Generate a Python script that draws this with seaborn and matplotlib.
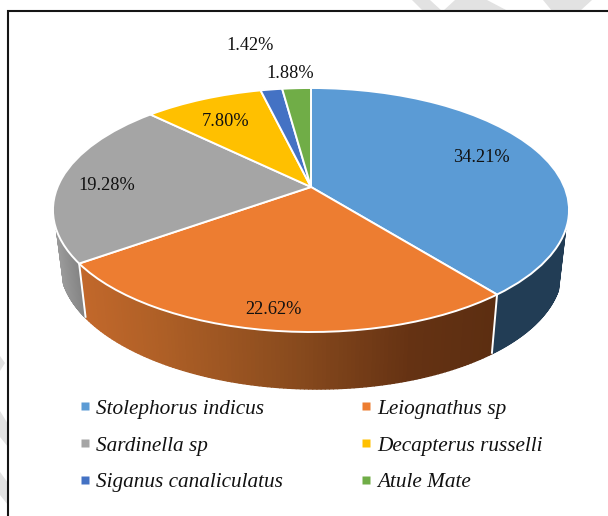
import numpy as np
import matplotlib
matplotlib.use("Agg")
import matplotlib.pyplot as plt
import seaborn as sns
from matplotlib.collections import PolyCollection
from matplotlib.lines import Line2D
from matplotlib.patches import Polygon, Rectangle
from matplotlib.transforms import Transform

sns.set_theme(style="white")
plt.rcParams["font.family"] = ["Liberation Serif", "DejaVu Serif"]

# ---- data ----
species = ["Stolephorus indicus", "Leiognathus sp", "Sardinella sp",
           "Decapterus russelli", "Siganus canaliculatus", "Atule Mate"]
shares = [34.21, 22.62, 19.28, 7.80, 1.42, 1.88]
share_labels = ["34.21%", "22.62%", "19.28%", "7.80%", "1.42%", "1.88%"]
colors = ["#5B9BD5", "#ED7D31", "#A5A5A5", "#FFC000", "#4472C4", "#70AD47"]

# ---- layout (pixels) ----
W, H = 608, 516
CX, CY = 311, 210          # centre of the projected rim
RX, RY = 253.4, 122        # projected radii
APEX = 23                  # apex offset above the rim centre
K = 0.1885                 # perspective strength
DEPTH = 57
SHRINK = 0.972
label_xy = [(481, 158), (273, 310), (107, 186), (226, 121), (250, 45), (290, 73)]


def project(u, v):
    d = 1 + K * v
    return RX * u / d, (RY * v + APEX) / d


class Perspective(Transform):
    input_dims = output_dims = 2
    is_separable = False
    has_inverse = False

    def transform_non_affine(self, values):
        values = np.asarray(values)
        x, y = project(values[:, 0], values[:, 1])
        return np.column_stack([CX + x, CY - y])


def top_rim(theta):
    x, y = project(np.sin(theta), np.cos(theta))
    return CX + x, CY - y


def bottom_rim(theta):
    x, y = project(np.sin(theta), np.cos(theta))
    return CX + SHRINK * x, CY - y + DEPTH + 0.012 * x


fig = plt.figure(figsize=(W / 100, H / 100), dpi=100, facecolor="white")
ax = fig.add_axes([0, 0, 1, 1])

wedges, _ = ax.pie(shares, startangle=90, counterclock=False, colors=colors,
                   wedgeprops=dict(edgecolor="white", linewidth=1.4, zorder=3))
persp = Perspective() + ax.transData
for w in wedges:
    w.set_transform(persp)

ax.set_aspect("auto")
ax.set_xlim(0, W)
ax.set_ylim(H, 0)
ax.axis("off")

# watermark strokes behind the frame
for pts in ([(412, 0), (430, 0), (442, 11), (423, 11)],
            [(443, 11), (455, 0), (487, 0), (508, 11)],
            [(543, 0), (592, 0), (580, 11), (552, 11)],
            [(0, 356), (5, 363), (0, 371)],
            [(0, 411), (8, 424), (8, 447), (0, 437)],
            [(0, 472), (8, 483), (8, 505), (0, 495)]):
    ax.add_patch(Polygon(pts, closed=True, fc="#e2e2e2", ec="none", zorder=0))

# chart frame
ax.add_patch(Rectangle((8, 11), 800, 800, fc="white", ec="#151515", lw=1.5, zorder=0.5))

# side wall, shaded slice by slice
wall_stops = {
    0: ([0, 1], ["#223D55", "#223D55"]),
    1: ([0, 0.2, 0.5, 0.8, 1], ["#C2682B", "#AE5F26", "#8B4C1E", "#653213", "#5C2E11"]),
    2: ([0, 1], ["#999999", "#838383"]),
}
fractions = np.cumsum(shares) / np.sum(shares)
edges = np.concatenate([[0], fractions]) * 2 * np.pi
lo, hi = np.radians(110), np.radians(250)
for i, stops in wall_stops.items():
    a, b = max(edges[i], lo), min(edges[i + 1], hi)
    th = np.linspace(a, b, 120)
    tx, ty = top_rim(th)
    bx, by = bottom_rim(th)
    quads = [[(tx[j], ty[j]), (tx[j + 1], ty[j + 1]), (bx[j + 1], by[j + 1]), (bx[j], by[j])]
             for j in range(len(th) - 1)]
    f = (tx[:-1] - tx.min()) / (tx.max() - tx.min())
    rgb = np.array([matplotlib.colors.to_rgb(c) for c in stops[1]])
    cols = np.column_stack([np.interp(f, stops[0], rgb[:, k]) for k in range(3)])
    ax.add_collection(PolyCollection(quads, facecolors=cols, edgecolors=cols,
                                     linewidths=1.0, zorder=1))
for e in edges[1:3]:
    tx, ty = top_rim(e)
    bx, by = bottom_rim(e)
    ax.plot([tx, bx], [ty, by], color="white", lw=1.4, zorder=2, solid_capstyle="butt")

for text, (x, y) in zip(share_labels, label_xy):
    ax.text(x, y, text, ha="center", va="center", fontsize=13.2, color="#111111", zorder=5)

# legend, filled row by row
order = [0, 2, 4, 1, 3, 5]
handles = [Line2D([], [], ls="none", marker="s", ms=5.2, mfc=colors[i], mec="none") for i in order]
ax.legend(handles, [species[i] for i in order], ncol=2, frameon=False,
          loc="upper left", bbox_to_anchor=(0.131, 0.2271),
          prop=dict(family="Liberation Serif", style="italic", size=15.3),
          labelspacing=0.80, columnspacing=3.65, handlelength=0.5, handletextpad=0.27,
          borderpad=0, borderaxespad=0, labelcolor="#111111")

fig.savefig("out.png", dpi=100, facecolor="white")
